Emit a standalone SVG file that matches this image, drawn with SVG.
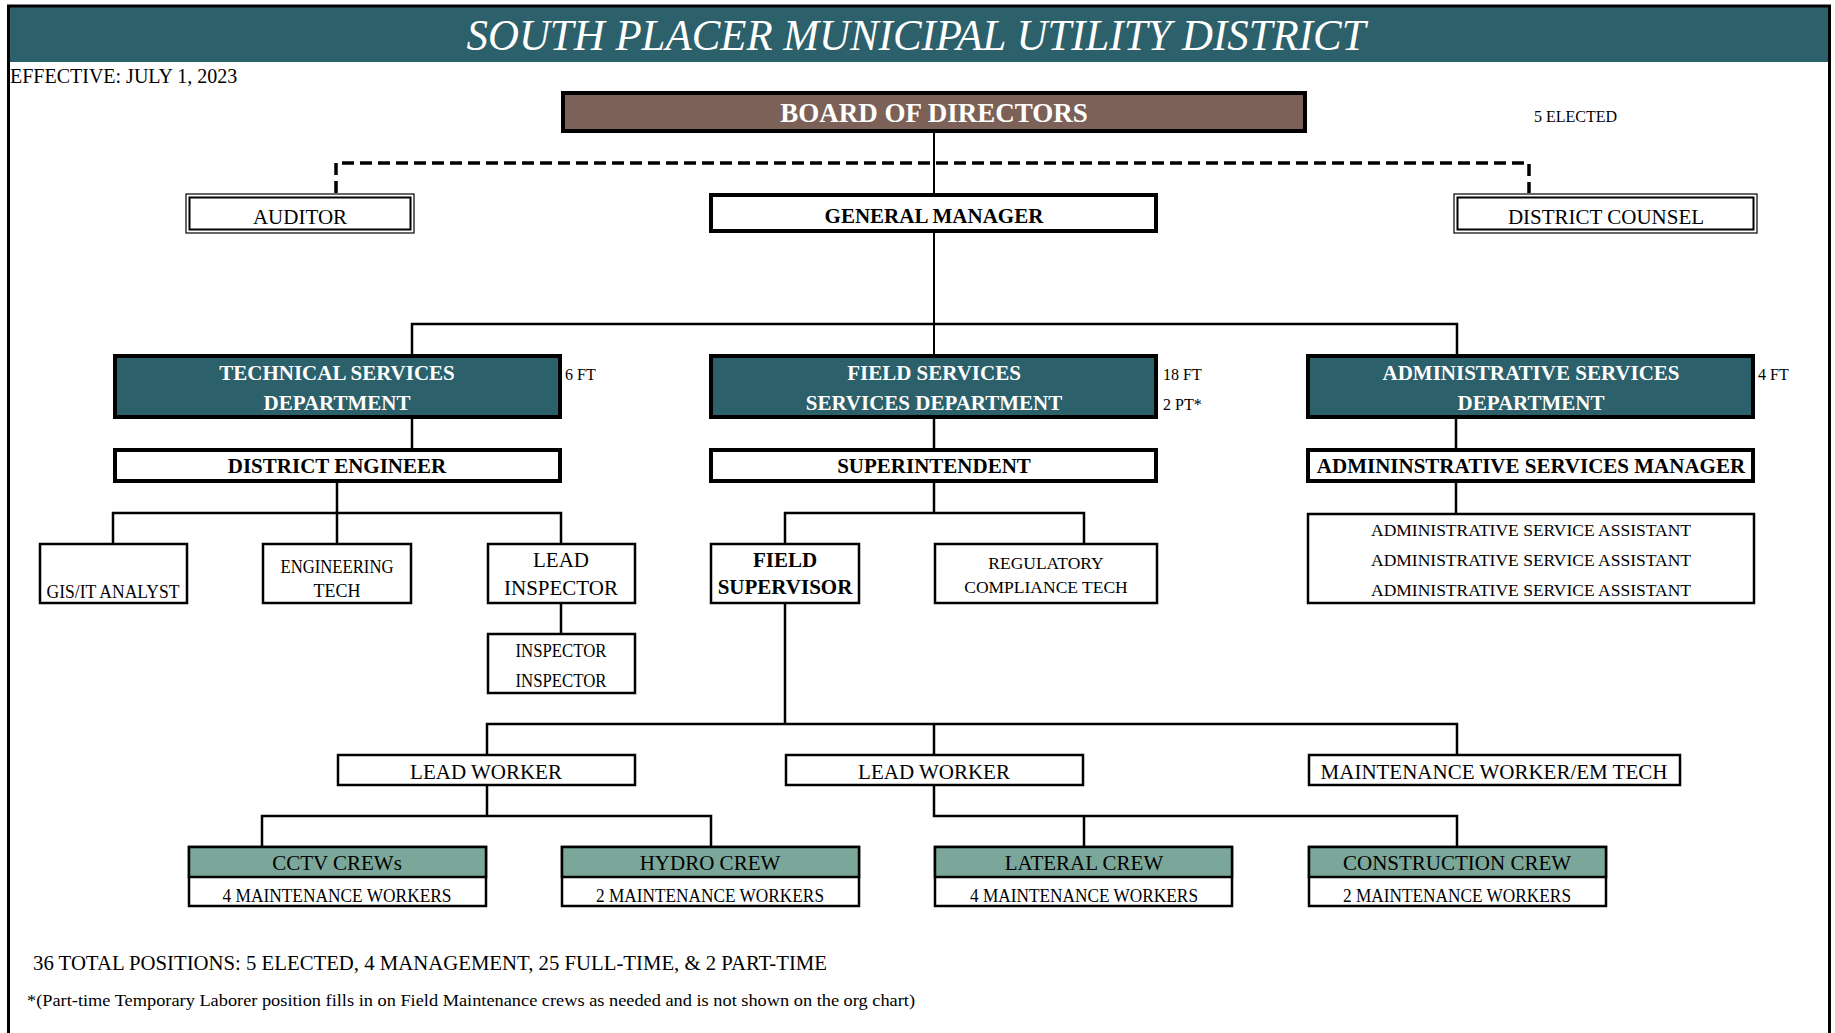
<svg xmlns="http://www.w3.org/2000/svg" width="1835" height="1033" viewBox="0 0 1835 1033">
<defs>
<style>
text{font-family:"Liberation Serif","Times New Roman",serif;fill:#000;}
.c{text-anchor:middle;}
.b{font-weight:bold;}
.w{fill:#fff;}
.f21{font-size:21px;}
.f18{font-size:18px;}
.f17{font-size:17.5px;}
.f16{font-size:16px;}
.box{fill:#fff;stroke:#000;stroke-width:2.5;}
.thick{fill:#fff;stroke:#000;stroke-width:4;}
.dept{fill:#2c606a;stroke:#000;stroke-width:4;}
.crewh{fill:#7ba79a;stroke:#000;stroke-width:2.5;}
.dbl-o{fill:#fff;stroke:#000;stroke-width:1.2;}
.dbl-i{fill:none;stroke:#000;stroke-width:2;}
.conn{fill:none;stroke:#000;stroke-width:2.5;}
.dash{fill:none;stroke:#000;stroke-width:3.5;stroke-dasharray:12 6;}
</style>
</defs>
<rect x="0" y="0" width="1835" height="1033" fill="#fff"/>
<g id="header">
<rect x="8" y="6" width="1822" height="56" fill="#2c606a"/>
<path d="M8.5,1040 V6 H1829.5 V1040" fill="none" stroke="#000" stroke-width="3"/>
<text x="916" y="50" class="c w" style="font-size:44px;font-style:italic" textLength="899" lengthAdjust="spacingAndGlyphs">SOUTH PLACER MUNICIPAL UTILITY DISTRICT</text>
<text x="10" y="83" style="font-size:20px">EFFECTIVE: JULY 1, 2023</text>
</g>
<g id="connectors">
<path class="dash" d="M336,193 V163 H1529 V193"/>
<path class="conn" style="stroke-width:2" d="M934,132 V195"/>
<path class="conn" style="stroke-width:2" d="M934,232 V356"/>
<path class="conn" d="M412,356 V324 H1457 V356"/>
<path class="conn" d="M412,419 V449 M934,419 V449 M1456,419 V449"/>
<path class="conn" d="M337,483 V513 M113,543 V513 H561 V543 M337,513 V543"/>
<path class="conn" d="M934,483 V513 M785,543 V513 H1084 V543"/>
<path class="conn" d="M1456,483 V514"/>
<path class="conn" d="M561,604 V634"/>
<path class="conn" d="M785,604 V724 M487,755 V724 H1457 V755 M934,724 V755"/>
<path class="conn" d="M487,786 V816 M262,846 V816 H711 V846"/>
<path class="conn" d="M934,786 V816 H1457 V846 M1084,816 V846"/>
</g>
<g id="board">
<rect x="563" y="93" width="742" height="38" fill="#7b6157" stroke="#000" stroke-width="4"/>
<text x="934" y="122" class="c b w" style="font-size:27px">BOARD OF DIRECTORS</text>
<text x="1534" y="122" class="f16">5 ELECTED</text>
</g>
<g id="auditor">
<rect class="dbl-o" x="186" y="194" width="228" height="39"/>
<rect class="dbl-i" x="189.5" y="197.5" width="221" height="32"/>
<text x="300" y="224" class="c f21">AUDITOR</text>
</g>
<g id="general-manager">
<rect class="thick" x="711" y="195" width="445" height="36"/>
<text x="934" y="223" class="c b f21">GENERAL MANAGER</text>
</g>
<g id="district-counsel">
<rect class="dbl-o" x="1454" y="194" width="303" height="39"/>
<rect class="dbl-i" x="1457.5" y="197.5" width="296" height="32"/>
<text x="1606" y="224" class="c f21">DISTRICT COUNSEL</text>
</g>
<g id="technical-services">
<rect class="dept" x="115" y="356" width="445" height="61"/>
<text x="337" y="380" class="c b w f21">TECHNICAL SERVICES</text>
<text x="337" y="410" class="c b w f21">DEPARTMENT</text>
<text x="565" y="380" class="f16">6 FT</text>
</g>
<g id="field-services">
<rect class="dept" x="711" y="356" width="445" height="61"/>
<text x="934" y="380" class="c b w f21">FIELD SERVICES</text>
<text x="934" y="410" class="c b w f21">SERVICES DEPARTMENT</text>
<text x="1163" y="380" class="f16">18 FT</text>
<text x="1163" y="410" class="f16">2 PT*</text>
</g>
<g id="administrative-services">
<rect class="dept" x="1308" y="356" width="445" height="61"/>
<text x="1531" y="380" class="c b w f21">ADMINISTRATIVE SERVICES</text>
<text x="1531" y="410" class="c b w f21">DEPARTMENT</text>
<text x="1758" y="380" class="f16">4 FT</text>
</g>
<g id="district-engineer">
<rect class="thick" x="115" y="450" width="445" height="31"/>
<text x="337" y="473" class="c b f21">DISTRICT ENGINEER</text>
</g>
<g id="superintendent">
<rect class="thick" x="711" y="450" width="445" height="31"/>
<text x="934" y="473" class="c b f21">SUPERINTENDENT</text>
</g>
<g id="admin-manager">
<rect class="thick" x="1308" y="450" width="445" height="31"/>
<text x="1531" y="473" class="c b f21">ADMININSTRATIVE SERVICES MANAGER</text>
</g>
<g id="gis-analyst">
<rect class="box" x="40" y="544" width="147" height="59"/>
<text x="113" y="598" class="c f18" textLength="133" lengthAdjust="spacingAndGlyphs">GIS/IT ANALYST</text>
</g>
<g id="engineering-tech">
<rect class="box" x="263" y="544" width="148" height="59"/>
<text x="337" y="573" class="c f18" textLength="113" lengthAdjust="spacingAndGlyphs">ENGINEERING</text>
<text x="337" y="597" class="c f18">TECH</text>
</g>
<g id="lead-inspector">
<rect class="box" x="488" y="544" width="147" height="59"/>
<text x="561" y="567" class="c f21">LEAD</text>
<text x="561" y="595" class="c f21">INSPECTOR</text>
</g>
<g id="inspectors">
<rect class="box" x="488" y="634" width="147" height="59"/>
<text x="561" y="657" class="c f18" textLength="91" lengthAdjust="spacingAndGlyphs">INSPECTOR</text>
<text x="561" y="687" class="c f18" textLength="91" lengthAdjust="spacingAndGlyphs">INSPECTOR</text>
</g>
<g id="field-supervisor">
<rect class="box" x="711" y="544" width="148" height="59"/>
<text x="785" y="567" class="c b f21">FIELD</text>
<text x="785" y="594" class="c b f21">SUPERVISOR</text>
</g>
<g id="regulatory-tech">
<rect class="box" x="935" y="544" width="222" height="59"/>
<text x="1046" y="569" class="c f17">REGULATORY</text>
<text x="1046" y="593" class="c f17">COMPLIANCE TECH</text>
</g>
<g id="admin-assistants">
<rect class="box" x="1308" y="514" width="446" height="89"/>
<text x="1531" y="536" class="c f17">ADMINISTRATIVE SERVICE ASSISTANT</text>
<text x="1531" y="566" class="c f17">ADMINISTRATIVE SERVICE ASSISTANT</text>
<text x="1531" y="596" class="c f17">ADMINISTRATIVE SERVICE ASSISTANT</text>
</g>
<g id="lead-worker-1">
<rect class="box" x="338" y="755" width="297" height="30"/>
<text x="486" y="779" class="c f21">LEAD WORKER</text>
</g>
<g id="lead-worker-2">
<rect class="box" x="786" y="755" width="297" height="30"/>
<text x="934" y="779" class="c f21">LEAD WORKER</text>
</g>
<g id="maintenance-worker">
<rect class="box" x="1309" y="755" width="371" height="30"/>
<text x="1494" y="779" class="c f21">MAINTENANCE WORKER/EM TECH</text>
</g>
<g id="cctv-crew">
<rect class="box" x="189" y="847" width="297" height="59"/>
<rect class="crewh" x="189" y="847" width="297" height="30"/>
<text x="337" y="870" class="c f21">CCTV CREWs</text>
<text x="337" y="902" class="c f18" textLength="229" lengthAdjust="spacingAndGlyphs">4 MAINTENANCE WORKERS</text>
</g>
<g id="hydro-crew">
<rect class="box" x="562" y="847" width="297" height="59"/>
<rect class="crewh" x="562" y="847" width="297" height="30"/>
<text x="710" y="870" class="c f21">HYDRO CREW</text>
<text x="710" y="902" class="c f18" textLength="228" lengthAdjust="spacingAndGlyphs">2 MAINTENANCE WORKERS</text>
</g>
<g id="lateral-crew">
<rect class="box" x="935" y="847" width="297" height="59"/>
<rect class="crewh" x="935" y="847" width="297" height="30"/>
<text x="1084" y="870" class="c f21">LATERAL CREW</text>
<text x="1084" y="902" class="c f18" textLength="228" lengthAdjust="spacingAndGlyphs">4 MAINTENANCE WORKERS</text>
</g>
<g id="construction-crew">
<rect class="box" x="1309" y="847" width="297" height="59"/>
<rect class="crewh" x="1309" y="847" width="297" height="30"/>
<text x="1457" y="870" class="c f21">CONSTRUCTION CREW</text>
<text x="1457" y="902" class="c f18" textLength="228" lengthAdjust="spacingAndGlyphs">2 MAINTENANCE WORKERS</text>
</g>
<g id="footer">
<text x="33" y="970" style="font-size:20px" textLength="794" lengthAdjust="spacingAndGlyphs">36 TOTAL POSITIONS: 5 ELECTED, 4 MANAGEMENT, 25 FULL-TIME, &amp; 2 PART-TIME</text>
<text x="27" y="1006" style="font-size:17px" textLength="888" lengthAdjust="spacingAndGlyphs">*(Part-time Temporary Laborer position fills in on Field Maintenance crews as needed and is not shown on the org chart)</text>
</g>
</svg>
